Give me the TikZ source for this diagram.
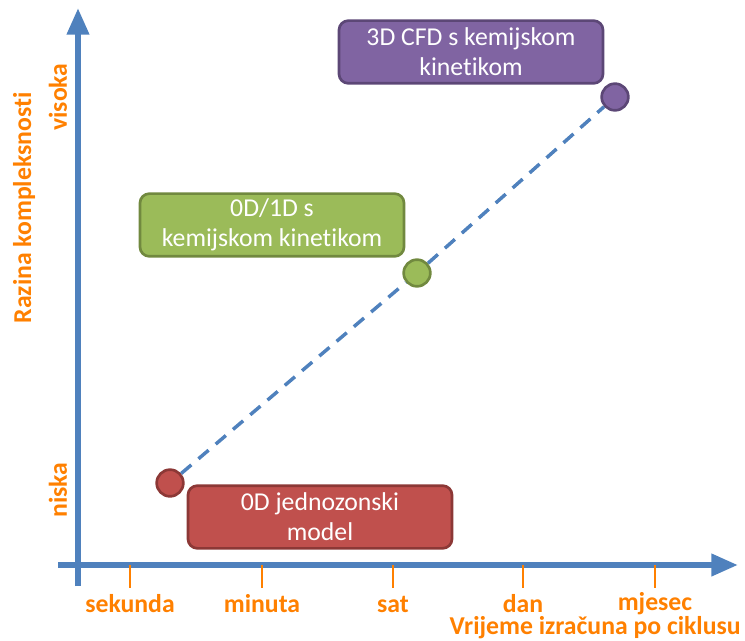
\documentclass[tikz,border=0pt]{standalone}
\usepackage{fontspec}
\setmainfont{Carlito}[Ligatures=NoCommon]
\usepackage{xcolor}
\usetikzlibrary{arrows.meta,positioning,calc}

\definecolor{axisblue}{HTML}{4F81BD}
\definecolor{tickorange}{HTML}{FF8000}
\definecolor{redfill}{HTML}{C0504D}
\definecolor{reddraw}{HTML}{8C3836}
\definecolor{greenfill}{HTML}{9BBB59}
\definecolor{greendraw}{HTML}{71893F}
\definecolor{purplefill}{HTML}{8064A2}
\definecolor{purpledraw}{HTML}{5C4776}

\begin{document}
\begin{tikzpicture}[
  x=0.75pt, y=-0.75pt,
  axis/.style={-{Triangle[length=20pt,width=16pt]}, line width=4.5pt, axisblue},
  tick/.style={line width=2.2pt, tickorange},
  ticklabel/.style={font=\fontsize{19.3}{21}\selectfont\bfseries, text=tickorange, inner sep=0pt},
  model/.style={rectangle, rounded corners=7pt, line width=2pt, minimum width=198pt, minimum height=47pt,
    text=white, align=center, font=\fontsize{19.3}{22.5}\selectfont, inner sep=0pt},
  point/.style={circle, line width=2pt, minimum size=20pt, inner sep=0pt}
]
\useasboundingbox (0,0) rectangle (745,641);

% axes
\coordinate (xstart) at (58,565);
\coordinate (xend) at (738,565);
\coordinate (ystart) at (78,586);
\coordinate (yend) at (78,8);
\draw[axis] (xstart) -- (xend);
\draw[axis] (ystart) -- (yend);

% time ticks
\foreach \x/\lbl/\nm in {130/sekunda/sek, 262/minuta/min, 393/sat/sat, 523/dan/dan, 655/mjesec/mje} {
  \coordinate (t\nm) at (\x,565);
  \coordinate (b\nm) at (\x,588);
  \draw[tick] (t\nm) -- (b\nm);
  \node[ticklabel] (l\nm) at (\x,604) {\lbl};
}
\node[ticklabel, anchor=east] (xlabel) at (741,628) {Vrijeme izračuna po ciklusu};

% complexity labels
\node[ticklabel, rotate=90] (ylabel) at (24,208) {Razina kompleksnosti};
\node[ticklabel, rotate=90] (high) at (58,97) {visoka};
\node[ticklabel, rotate=90] (low) at (58,490) {niska};

% models
\node[point, fill=redfill, draw=reddraw] (p0d) at (170,483) {};
\node[point, fill=greenfill, draw=greendraw] (p1d) at (417,273) {};
\node[point, fill=purplefill, draw=purpledraw] (p3d) at (615,97) {};
\draw[axisblue, line width=2.6pt, dash pattern=on 10pt off 7pt] (p0d) -- (p1d) -- (p3d);

\node[model, fill=redfill, draw=reddraw] (m0d) at (320,517) {0D jednozonski\\model};
\node[model, fill=greenfill, draw=greendraw] (m1d) at (272,225) {0D/1D s\\kemijskom kinetikom};
\node[model, fill=purplefill, draw=purpledraw] (m3d) at (471,52) {3D CFD s kemijskom\\kinetikom};
\end{tikzpicture}
\end{document}
